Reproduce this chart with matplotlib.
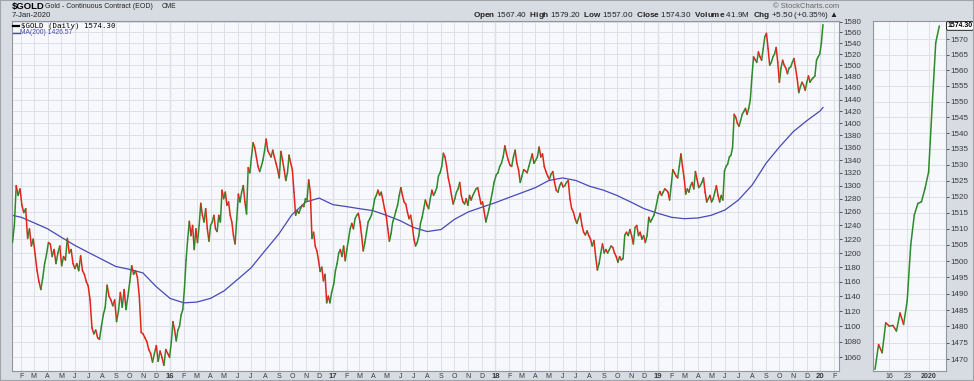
import numpy as np
import pandas as pd
import matplotlib.pyplot as plt
import matplotlib.dates as mdates
from matplotlib.collections import LineCollection
from matplotlib.lines import Line2D
from matplotlib.patches import Rectangle
import matplotlib.transforms as mtransforms

plt.rcParams['font.family'] = ['Liberation Sans', 'DejaVu Sans']
plt.rcParams['mathtext.fontset'] = 'custom'
plt.rcParams['mathtext.rm'] = 'Liberation Sans'
plt.rcParams['mathtext.bf'] = 'Liberation Sans:bold'

# $GOLD closes, one list per year
gold_2015 = [1215, 1240, 1300, 1285, 1295, 1270, 1259, 1265, 1221, 1235,
             1210, 1220, 1198, 1175, 1160, 1149, 1165, 1185, 1198, 1215,
             1213, 1195, 1205, 1185, 1200, 1210, 1182, 1195, 1190, 1221,
             1200, 1205, 1185, 1178, 1185, 1175, 1196, 1175, 1170, 1160,
             1154, 1135, 1098, 1090, 1095, 1085, 1083, 1100, 1115, 1125,
             1155, 1140, 1135, 1127, 1135, 1106, 1120, 1145, 1125, 1149,
             1122, 1140, 1160, 1182, 1170, 1175, 1166, 1140, 1092, 1090,
             1085, 1080, 1070, 1065, 1054, 1065, 1075, 1055, 1068, 1060,
             1050, 1070, 1065, 1060]
gold_2016 = [1080, 1106, 1095, 1081, 1095, 1100, 1115, 1122, 1150, 1190,
             1220, 1246, 1225, 1240, 1205, 1235, 1215, 1240, 1273, 1255,
             1245, 1265, 1235, 1217, 1240, 1245, 1255, 1235, 1231, 1255,
             1245, 1293, 1280, 1290, 1270, 1275, 1255, 1245, 1225, 1213,
             1250, 1287, 1275, 1290, 1300, 1275, 1257, 1328, 1320, 1345,
             1368, 1360, 1345, 1330, 1322, 1330, 1340, 1355, 1374, 1355,
             1350, 1345, 1356, 1345, 1335, 1325, 1312, 1354, 1340, 1325,
             1308, 1320, 1348, 1335, 1325, 1290, 1255, 1262, 1258, 1265,
             1270, 1268, 1280, 1278, 1309, 1290, 1221, 1230, 1210, 1203,
             1190, 1174, 1180, 1161, 1170, 1131, 1140, 1131, 1145]
gold_2017 = [1157, 1175, 1185, 1200, 1205, 1195, 1210, 1189, 1205, 1220,
             1235, 1243, 1235, 1250, 1255, 1258, 1245, 1225, 1203, 1215,
             1230, 1245, 1250, 1255, 1265, 1280, 1285, 1293, 1285, 1290,
             1278, 1265, 1255, 1235, 1217, 1228, 1245, 1252, 1262, 1270,
             1285, 1297, 1285, 1275, 1272, 1260, 1250, 1255, 1240, 1220,
             1210, 1215, 1225, 1243, 1252, 1265, 1278, 1270, 1265, 1280,
             1293, 1285, 1290, 1297, 1315, 1320, 1330, 1351, 1345, 1330,
             1312, 1300, 1285, 1272, 1280, 1290, 1295, 1305, 1285, 1275,
             1272, 1280, 1270, 1285, 1278, 1285, 1290, 1295, 1297, 1285,
             1272, 1275, 1260, 1245, 1255, 1265, 1278, 1290, 1305]
gold_2018 = [1317, 1320, 1330, 1335, 1345, 1363, 1350, 1340, 1332, 1330,
             1345, 1356, 1335, 1325, 1305, 1315, 1325, 1323, 1320, 1330,
             1340, 1350, 1335, 1340, 1345, 1361, 1345, 1350, 1330, 1322,
             1315, 1310, 1318, 1322, 1305, 1293, 1290, 1300, 1305, 1298,
             1300, 1305, 1308, 1280, 1265, 1260, 1250, 1243, 1250, 1258,
             1240, 1230, 1226, 1232, 1225, 1220, 1210, 1218, 1195, 1176,
             1185, 1200, 1213, 1200, 1205, 1200, 1205, 1210, 1208, 1200,
             1195, 1187, 1195, 1190, 1192, 1226, 1230, 1225, 1234, 1225,
             1213, 1237, 1240, 1225, 1230, 1220, 1225, 1215, 1225, 1252,
             1245, 1250, 1255, 1265]
gold_2019 = [1285, 1291, 1285, 1290, 1295, 1293, 1290, 1278, 1300, 1325,
             1320, 1315, 1312, 1330, 1350, 1330, 1312, 1287, 1295, 1290,
             1300, 1305, 1295, 1322, 1310, 1297, 1300, 1305, 1312, 1290,
             1275, 1280, 1285, 1275, 1280, 1290, 1300, 1285, 1275, 1285,
             1278, 1323, 1330, 1334, 1345, 1348, 1360, 1415, 1410, 1400,
             1395, 1405, 1415, 1420, 1425, 1415, 1425, 1440, 1480, 1515,
             1510, 1505, 1524, 1515, 1509, 1530, 1552, 1558, 1530, 1500,
             1505, 1515, 1520, 1532, 1505, 1470, 1495, 1509, 1500, 1495,
             1485, 1495, 1497, 1505, 1512, 1495, 1477, 1452, 1462, 1470,
             1465, 1456, 1470, 1481, 1470, 1475, 1478, 1481, 1509, 1515,
             1520, 1540, 1574.3]
year_spans = [("2015-01-12", "2015-12-31"), ("2016-01-04", "2016-12-29"),
              ("2017-01-03", "2017-12-29"), ("2018-01-03", "2018-12-27"),
              ("2019-01-02", "2020-01-07")]

# 200 day moving average, read at month starts
ma200 = [1255, 1252, 1244, 1235, 1223, 1211, 1201, 1191, 1181, 1177, 1172, 1153,
         1137, 1131, 1132, 1137, 1147, 1163, 1179, 1203, 1227, 1256, 1275, 1281,
         1271, 1268, 1265, 1262, 1255, 1247, 1237, 1231, 1234, 1249, 1260, 1267,
         1274, 1282, 1289, 1297, 1308, 1312, 1308, 1299, 1293, 1285, 1275, 1265,
         1258, 1252, 1250, 1251, 1255, 1263, 1278, 1301, 1335, 1361, 1386, 1404,
         1421, 1426.57]
ma_dates = (["2015-01-12"] + [d.strftime("%Y-%m-%d") for d in
            pd.date_range("2015-02-01", "2020-01-01", freq="MS")] + ["2020-01-07"])

# last few weeks, daily closes (right panel)
recent_close = [1467.0, 1474.5, 1472.0, 1481.1, 1480.1, 1480.3, 1478.6, 1484.1,
                1480.6, 1487.7, 1505.0, 1514.3, 1517.9, 1518.4, 1522.6, 1527.7,
                1548.7, 1568.9, 1574.3]
recent_ticks = [4, 9, 15]
recent_labels = ["16", "23", "2020"]

main_yticks = list(range(1060, 1581, 20))
recent_yticks = list(range(1470, 1571, 5))

UP = '#2b8a2b'
DOWN = '#e3231c'
MA_COL = '#4848b8'
GRID = '#dde0e7'
TXT = '#3a3a3a'

W, H = 974, 381


def fx(px):
    return px / W


def fy(py):
    return 1 - py / H


def colored_line(ax, x, y):
    pts = np.column_stack([x, y])
    segs = np.stack([pts[:-1], pts[1:]], axis=1)
    cols = np.where(np.diff(y) >= 0, UP, DOWN)
    ax.add_collection(LineCollection(segs, colors=cols, linewidths=1.1,
                                     capstyle='round', joinstyle='round', zorder=3))


fig = plt.figure(figsize=(W / 100, H / 100), dpi=100, facecolor='#d7dbe2')

# ---------- main panel ----------
ax = fig.add_axes([fx(12), fy(371), fx(827), 350 / H])
ax.set_facecolor('#f7f8fb')

price = np.concatenate([gold_2015, gold_2016, gold_2017, gold_2018, gold_2019])
dates = np.concatenate([mdates.date2num(pd.date_range(a, b, periods=len(v)))
                        for (a, b), v in zip(year_spans,
                                             [gold_2015, gold_2016, gold_2017, gold_2018, gold_2019])])
colored_line(ax, dates, price)
ax.plot(mdates.date2num(pd.to_datetime(ma_dates)), ma200, color=MA_COL, lw=0.9, zorder=2)

ax.set_yscale('log')
ax.set_ylim(1043, 1581)
ax.set_xlim(mdates.date2num(pd.Timestamp("2015-01-11")), mdates.date2num(pd.Timestamp("2020-02-12")))
ax.yaxis.tick_right()
ax.set_yticks(main_yticks)
ax.set_yticklabels([str(v) for v in main_yticks])
ax.yaxis.set_minor_locator(plt.NullLocator())

months = pd.date_range("2015-02-01", "2020-02-01", freq="MS")
ax.set_xticks(mdates.date2num(months))
ax.set_xticklabels([("%02d" % (m.year % 100)) if m.month == 1 else m.strftime("%b")[0] for m in months])
ax.grid(True, color=GRID, lw=0.7, zorder=0)
for m in months:
    if m.month == 1:
        ax.axvline(mdates.date2num(m), color='#c4c8d0', lw=0.9, zorder=1)

# ---------- right panel ----------
ax2 = fig.add_axes([fx(873), fy(371), fx(73), 350 / H])
ax2.set_facecolor('#f7f8fb')
colored_line(ax2, np.arange(len(recent_close)), np.array(recent_close))
ax2.set_yscale('log')
ax2.set_ylim(1466.5, 1575.9)
ax2.set_xlim(-0.56, 19.87)
ax2.yaxis.tick_right()
ax2.set_yticks(recent_yticks)
ax2.set_yticklabels([str(v) for v in recent_yticks])
ax2.yaxis.set_minor_locator(plt.NullLocator())
ax2.set_xticks(recent_ticks)
ax2.set_xticklabels(recent_labels)
ax2.grid(True, color=GRID, lw=0.7, zorder=0)

for a in (ax, ax2):
    a.tick_params(axis='y', labelsize=5.8, colors=TXT, length=2, width=0.6, pad=1)
    a.tick_params(axis='x', labelsize=5.0, colors=TXT, length=0, pad=1.2)
    for s in a.spines.values():
        s.set_color('#9096a0')
        s.set_linewidth(0.8)

# year labels in bold
for m, lab in zip(months, ax.get_xticklabels()):
    if m.month == 1:
        lab.set_fontweight('bold')
        lab.set_fontsize(5.6)
ax2.get_xticklabels()[-1].set_fontweight('bold')

tr = mtransforms.blended_transform_factory(ax2.transAxes, ax2.transData)
ax2.text(1.02, recent_close[-1], "%.2f" % recent_close[-1], transform=tr, fontsize=5.0,
         fontweight='bold', va='center', ha='left', color='black',
         bbox=dict(boxstyle='round,pad=0.12,rounding_size=0.2', fc='white', ec='black', lw=0.6))

# ---------- header texts ----------
fig.text(fx(12), fy(7), r"\$GOLD", fontsize=6.8, fontweight='bold', va='center', color='black')
fig.text(fx(45), fy(7), "Gold - Continuous Contract (EOD)", fontsize=5.0, va='center', color='#222222')
fig.text(fx(162), fy(7), "CME", fontsize=4.8, va='center', color='#222222')
fig.text(fx(12), fy(15.5), "7-Jan-2020", fontsize=5.6, va='center', color='#222222')

fig.text(fx(839), fy(6.5), "© StockCharts.com", fontsize=5.5, va='center', ha='right', color='#666666')
fig.text(fx(838), fy(15.8),
         r"$\mathbf{Open}$ 1567.40  $\mathbf{High}$ 1579.20  $\mathbf{Low}$ 1557.00  "
         r"$\mathbf{Close}$ 1574.30  $\mathbf{Volume}$ 41.9M  $\mathbf{Chg}$ +5.50 (+0.35%) ▲",
         fontsize=5.9, va='center', ha='right', color='#222222')

# legend inside the main panel
fig.add_artist(Line2D([fx(13), fx(19)], [fy(25.5), fy(25.5)], color='black', lw=1.6))
fig.text(fx(21), fy(25.5), r"\$GOLD (Daily) 1574.30", family='DejaVu Sans Mono', fontsize=5.3,
         va='center', color='black')
fig.add_artist(Line2D([fx(13), fx(20)], [fy(33), fy(33)], color=MA_COL, lw=1.0))
fig.text(fx(20.5), fy(33), "MA(200) 1426.57", fontsize=4.9, va='center', color=MA_COL)

fig.patches.append(Rectangle((0, 0), 1, 1, transform=fig.transFigure, fill=False,
                             ec='#9ea3ac', lw=1.5))

fig.savefig('out.png', dpi=100, facecolor=fig.get_facecolor())
